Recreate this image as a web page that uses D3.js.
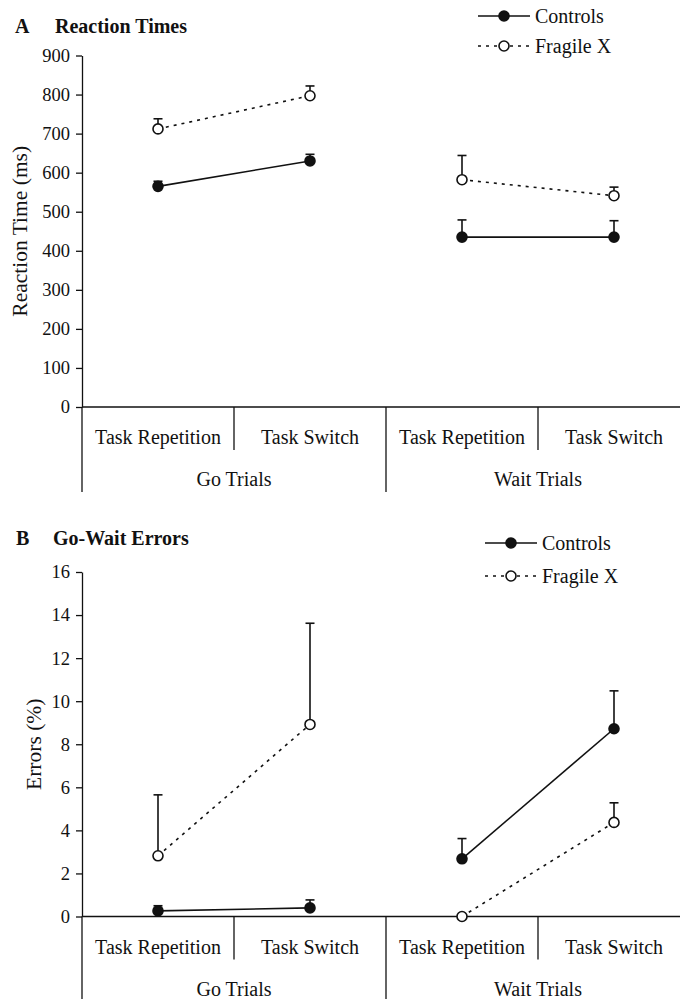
<!DOCTYPE html>
<html>
<head>
<meta charset="utf-8">
<script src="https://cdn.jsdelivr.net/npm/d3@7"></script>
<style>
  html, body { margin: 0; padding: 0; background: #fff; }
  svg, svg text { font-family: "Liberation Serif", "Times New Roman", Times, serif !important; }
</style>
</head>
<body>
<svg id="chart" width="680" height="999"></svg>
<script>
// ---- Data ----
const conditions = ["Task Repetition", "Task Switch", "Task Repetition", "Task Switch"];
const trialGroups = ["Go Trials", "Wait Trials"];
const seriesNames = ["Controls", "Fragile X"];

// Panel A: Reaction times (ms)
const rtTicks = [0, 100, 200, 300, 400, 500, 600, 700, 800, 900];
const rtControls = [565, 630, 435, 435];
const rtControlsErr = [13, 17, 44, 42];
const rtFragile = [712, 797, 582, 541];
const rtFragileErr = [26, 25, 62, 22];

// Panel B: Go-Wait errors (%)
const errTicks = [0, 2, 4, 6, 8, 10, 12, 14, 16];
const errControls = [0.26, 0.4, 2.68, 8.72];
const errControlsErr = [0.24, 0.37, 0.94, 1.76];
const errFragile = [2.82, 8.92, 0, 4.37];
const errFragileErr = [2.83, 4.7, 0, 0.91];

// ---- Drawing ----
const svg = d3.select("#chart");
const ink = "#111";
const serif = '"Liberation Serif", "Times New Roman", Times, serif';

const x = d3.scaleBand().domain(d3.range(conditions.length)).range([82, 690]).padding(0);

function txt(g, size) {
  return g.append("text").style("font-family", serif).style("font-size", size + "px").attr("fill", ink);
}

function panel(opts) {
  const g = svg.append("g");
  const y = d3.scaleLinear().domain(opts.domain).range(opts.range);
  const y0 = y(0);

  // panel letter + title
  txt(g, 20).attr("x", opts.letterX).attr("y", opts.titleY).style("font-weight", "bold").text(opts.letter);
  txt(g, 20).attr("x", opts.titleX).attr("y", opts.titleY).style("font-weight", "bold").text(opts.title);

  // y axis
  const yAxis = d3.axisLeft(y).tickValues(opts.ticks).tickSize(6).tickSizeOuter(0).tickPadding(6)
    .tickFormat(d3.format("d"));
  const ya = g.append("g").attr("transform", `translate(${x.range()[0]},0)`).call(yAxis)
    .attr("font-family", null).attr("font-size", null);
  ya.select(".domain").attr("stroke", ink).attr("stroke-width", 1.3);
  ya.selectAll(".tick line").attr("stroke", ink).attr("stroke-width", 1.3);
  ya.selectAll(".tick text").style("font-size", "18.5px").style("font-family", serif).attr("fill", ink);

  // y label
  txt(g, 21.5)
    .attr("transform", `translate(${opts.ylabelX},${(y.range()[0] + y.range()[1]) / 2 + opts.ylabelDy}) rotate(-90)`)
    .attr("text-anchor", "middle").attr("dominant-baseline", "central")
    .text(opts.ylabel);

  // x axis baseline
  g.append("line").attr("x1", x.range()[0]).attr("x2", x.range()[1])
    .attr("y1", y0).attr("y2", y0).attr("stroke", ink).attr("stroke-width", 1.3);

  // dividers between conditions inside a group
  [1, 3].forEach(i => {
    g.append("line").attr("x1", x(i)).attr("x2", x(i)).attr("y1", y0).attr("y2", y0 + 43)
      .attr("stroke", ink).attr("stroke-width", 1.3);
  });
  // group dividers
  [0, 2].forEach(i => {
    g.append("line").attr("x1", x(i)).attr("x2", x(i)).attr("y1", y0).attr("y2", y0 + 85)
      .attr("stroke", ink).attr("stroke-width", 1.3);
  });

  // category labels
  conditions.forEach((c, i) => {
    txt(g, 20).attr("x", x(i) + x.bandwidth() / 2).attr("y", y0 + 37)
      .attr("text-anchor", "middle").text(c);
  });
  trialGroups.forEach((t, j) => {
    txt(g, 20).attr("x", x(j * 2) + x.bandwidth()).attr("y", y0 + 79)
      .attr("text-anchor", "middle").text(t);
  });

  // series
  const series = [
    { name: seriesNames[0], vals: opts.controls, err: opts.controlsErr, dash: null, fill: ink },
    { name: seriesNames[1], vals: opts.fragile, err: opts.fragileErr, dash: "3,5", fill: "#fff" }
  ];
  const cx = i => x(i) + x.bandwidth() / 2;
  series.forEach(s => {
    [[0, 1], [2, 3]].forEach(pair => {
      const line = d3.line().x(i => cx(i)).y(i => y(s.vals[i]));
      g.append("path").attr("d", line(pair)).attr("fill", "none").attr("stroke", ink)
        .attr("stroke-width", 1.6).attr("stroke-dasharray", s.dash);
    });
    s.vals.forEach((v, i) => {
      if (s.err[i] <= 0) return;
      const top = y(v + s.err[i]);
      g.append("line").attr("x1", cx(i)).attr("x2", cx(i)).attr("y1", y(v)).attr("y2", top)
        .attr("stroke", ink).attr("stroke-width", 1.6);
      g.append("line").attr("x1", cx(i) - 4.5).attr("x2", cx(i) + 4.5).attr("y1", top).attr("y2", top)
        .attr("stroke", ink).attr("stroke-width", 1.6);
    });
  });
  series.forEach(s => {
    s.vals.forEach((v, i) => {
      g.append("circle").attr("cx", cx(i)).attr("cy", y(v)).attr("r", 5)
        .attr("fill", s.fill).attr("stroke", ink).attr("stroke-width", 1.6);
    });
  });

  // legend
  series.forEach((s, k) => {
    const ly = opts.legendY[k];
    g.append("line").attr("x1", opts.legendX).attr("x2", opts.legendX + 52).attr("y1", ly).attr("y2", ly)
      .attr("stroke", ink).attr("stroke-width", 1.6).attr("stroke-dasharray", s.dash);
    g.append("circle").attr("cx", opts.legendX + 26).attr("cy", ly).attr("r", 5)
      .attr("fill", s.fill).attr("stroke", ink).attr("stroke-width", 1.6);
    txt(g, 20).attr("x", opts.legendX + 57).attr("y", ly).attr("dominant-baseline", "central")
      .text(s.name);
  });
}

panel({
  letter: "A", title: "Reaction Times", letterX: 15, titleX: 55, titleY: 33,
  domain: [0, 900], range: [407, 55.5], ticks: rtTicks,
  ylabel: "Reaction Time (ms)", ylabelX: 20, ylabelDy: 0,
  controls: rtControls, controlsErr: rtControlsErr, fragile: rtFragile, fragileErr: rtFragileErr,
  legendX: 478, legendY: [16, 46]
});

panel({
  letter: "B", title: "Go-Wait Errors", letterX: 16, titleX: 53, titleY: 545,
  domain: [0, 16], range: [916.5, 572], ticks: errTicks,
  ylabel: "Errors (%)", ylabelX: 34, ylabelDy: 0,
  controls: errControls, controlsErr: errControlsErr, fragile: errFragile, fragileErr: errFragileErr,
  legendX: 485, legendY: [543, 576]
});
</script>
</body>
</html>
